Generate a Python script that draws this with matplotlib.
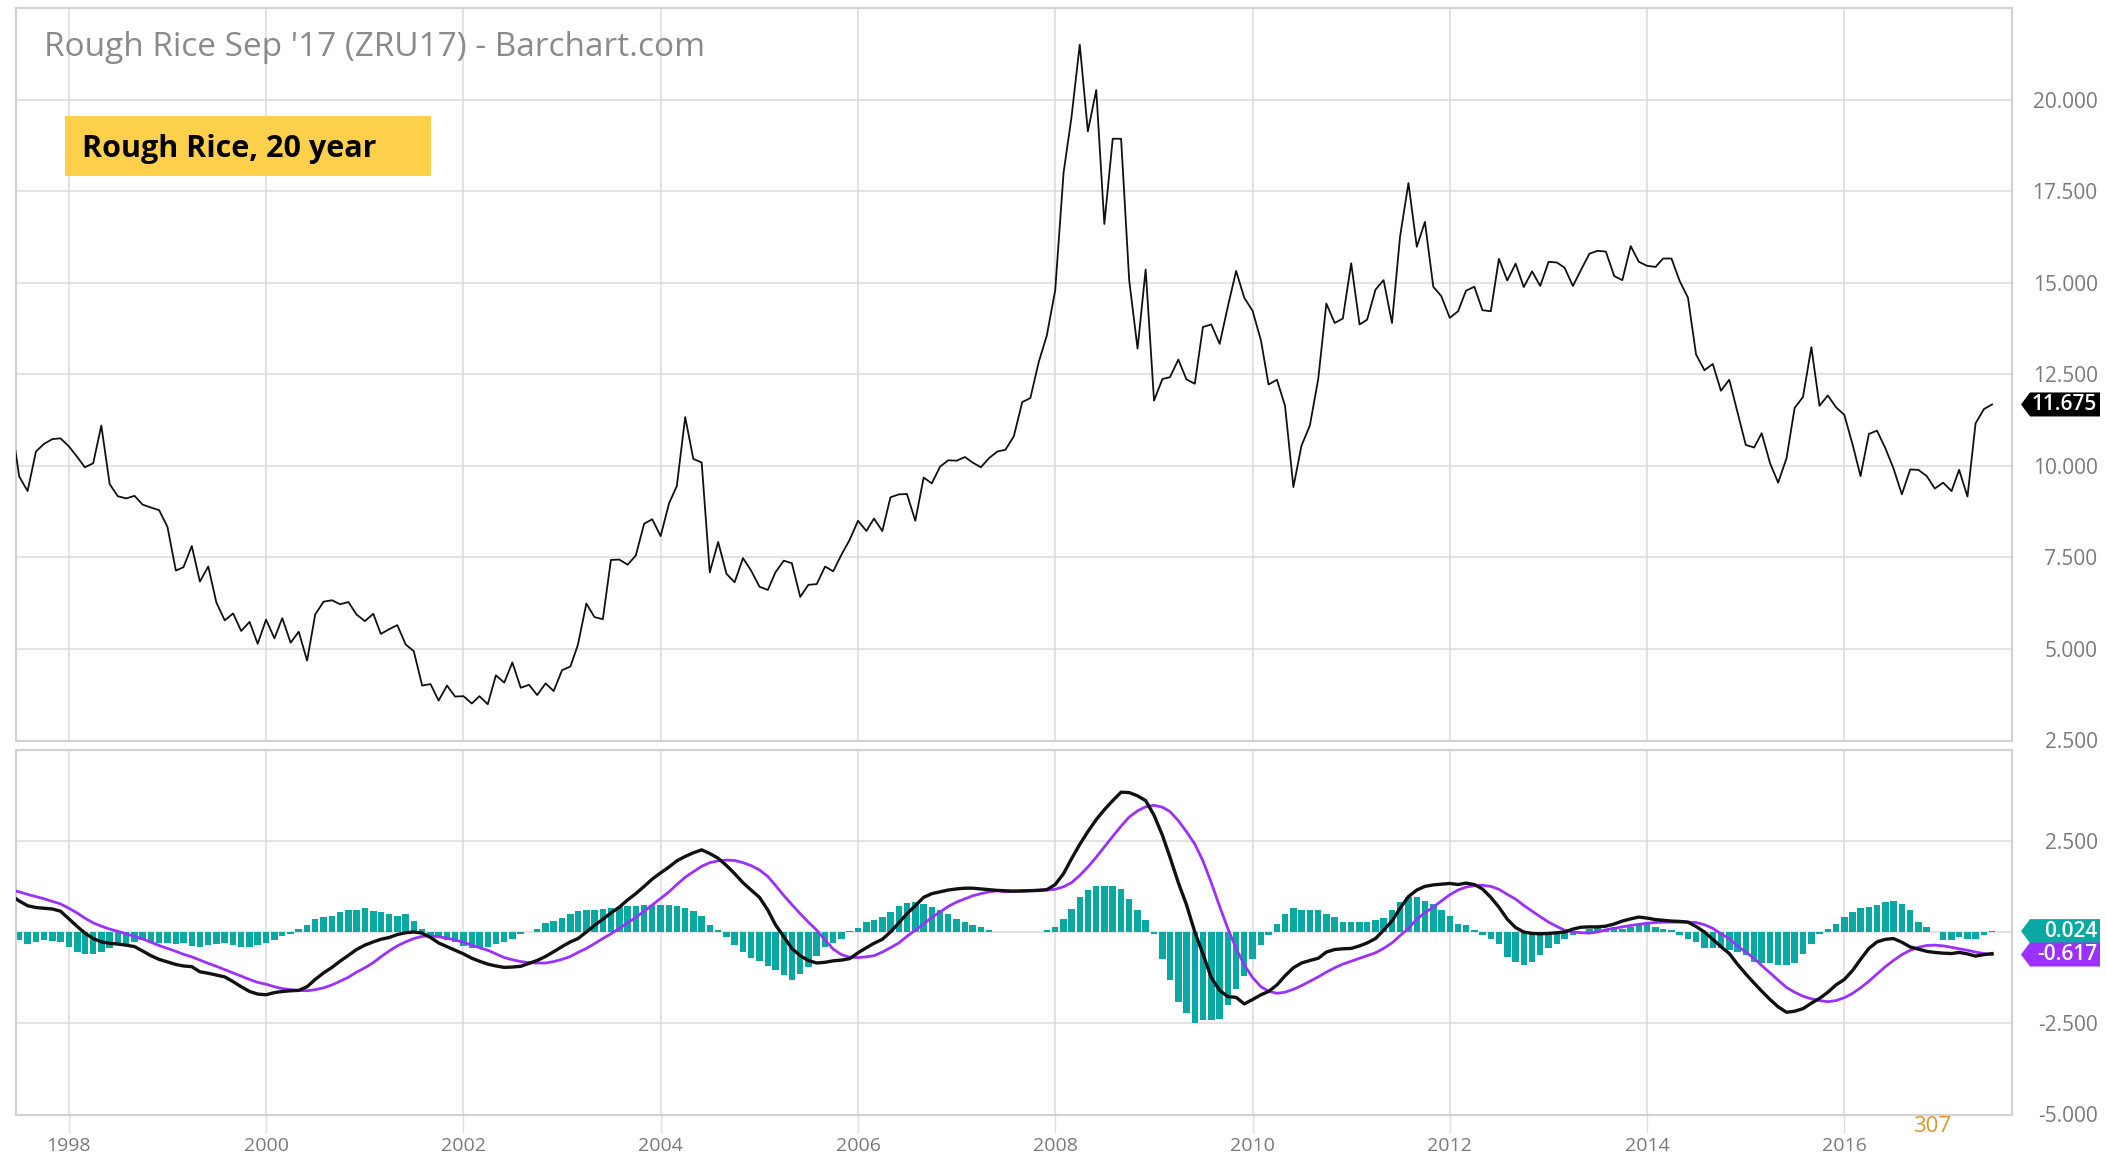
import matplotlib
matplotlib.use("Agg")
import matplotlib.pyplot as plt
import numpy as np
import pandas as pd
from matplotlib.patches import Polygon, Rectangle
from matplotlib.transforms import IdentityTransform

plt.rcParams["font.family"] = ["Open Sans", "DejaVu Sans"]

# ---------------------------------------------------------------- data
first_month = "1997-06-01"

# monthly settlement, Jun 1997 .. Jul 2017
price = [
    11.2, 9.71, 9.31, 10.39, 10.6, 10.73, 10.75,
    10.53, 10.24, 9.96, 10.07, 11.1, 9.5, 9.17, 9.11, 9.18, 8.94, 8.86, 8.79,
    8.33, 7.14, 7.23, 7.81, 6.84, 7.25, 6.27, 5.78, 5.97, 5.49, 5.74, 5.14,
    5.8, 5.29, 5.84, 5.17, 5.47, 4.68, 5.94, 6.29, 6.33, 6.22, 6.28, 5.94,
    5.76, 5.96, 5.41, 5.54, 5.65, 5.12, 4.94, 4.0, 4.04, 3.59, 4.0, 3.7,
    3.71, 3.51, 3.71, 3.49, 4.28, 4.08, 4.63, 3.94, 4.02, 3.74, 4.06, 3.85,
    4.42, 4.52, 5.12, 6.24, 5.87, 5.81, 7.43, 7.44, 7.3, 7.55, 8.42, 8.54,
    8.08, 8.97, 9.45, 11.33, 10.19, 10.09, 7.09, 7.92, 7.05, 6.82, 7.48, 7.14,
    6.7, 6.61, 7.09, 7.41, 7.34, 6.42, 6.75, 6.77, 7.25, 7.12, 7.58, 7.98,
    8.5, 8.22, 8.56, 8.22, 9.14, 9.22, 9.23, 8.5, 9.68, 9.52, 9.98, 10.15,
    10.14, 10.24, 10.09, 9.96, 10.21, 10.39, 10.44, 10.81, 11.74, 11.85, 12.83, 13.56,
    14.79, 18.0, 19.5, 21.5, 19.13, 20.26, 16.6, 18.93, 18.93, 15.07, 13.2, 15.36,
    11.78, 12.37, 12.42, 12.9, 12.36, 12.24, 13.79, 13.86, 13.33, 14.34, 15.32, 14.59,
    14.23, 13.42, 12.22, 12.35, 11.64, 9.42, 10.55, 11.1, 12.37, 14.43, 13.9, 14.02,
    15.53, 13.86, 13.99, 14.81, 15.07, 13.9, 16.26, 17.72, 15.98, 16.66, 14.89, 14.63,
    14.04, 14.22, 14.78, 14.89, 14.25, 14.22, 15.65, 15.06, 15.52, 14.88, 15.31, 14.91,
    15.57, 15.55, 15.41, 14.91, 15.35, 15.79, 15.87, 15.85, 15.18, 15.07, 16.0, 15.57,
    15.46, 15.43, 15.66, 15.66, 15.05, 14.59, 13.04, 12.61, 12.78, 12.05, 12.35, 11.48,
    10.57, 10.5, 10.89, 10.07, 9.54, 10.21, 11.58, 11.88, 13.24, 11.64, 11.92, 11.6,
    11.39, 10.57, 9.72, 10.87, 10.96, 10.48, 9.93, 9.22, 9.9, 9.89, 9.72, 9.38,
    9.54, 9.31, 9.89, 9.16, 11.16, 11.55, 11.675,
]

macd = [
    1.0, 0.85, 0.72, 0.67, 0.65, 0.63, 0.57,
    0.36, 0.15, -0.03, -0.18, -0.27, -0.31, -0.33, -0.36, -0.40, -0.52, -0.65, -0.75,
    -0.82, -0.89, -0.93, -0.95, -1.09, -1.13, -1.18, -1.23, -1.36, -1.50, -1.63, -1.70,
    -1.72, -1.66, -1.63, -1.61, -1.6, -1.5, -1.3, -1.12, -0.97, -0.80, -0.64, -0.48,
    -0.36, -0.27, -0.2, -0.15, -0.07, -0.02, 0.0, -0.03, -0.15, -0.30, -0.40, -0.5,
    -0.6, -0.72, -0.80, -0.88, -0.93, -0.97, -0.96, -0.94, -0.86, -0.78, -0.67, -0.54,
    -0.4, -0.27, -0.18, 0.0, 0.18, 0.35, 0.52, 0.68, 0.88, 1.05, 1.25, 1.45,
    1.62, 1.78, 1.95, 2.07, 2.17, 2.25, 2.15, 2.02, 1.82, 1.6, 1.35, 1.15,
    0.95, 0.6, 0.2, -0.13, -0.45, -0.65, -0.78, -0.85, -0.83, -0.79, -0.77, -0.73,
    -0.57, -0.43, -0.31, -0.2, 0.0, 0.25, 0.5, 0.72, 0.95, 1.05, 1.1, 1.15,
    1.18, 1.2, 1.2, 1.18, 1.16, 1.14, 1.13, 1.12, 1.12, 1.13, 1.14, 1.16,
    1.3, 1.6, 2.0, 2.4, 2.75, 3.08, 3.35, 3.6, 3.83, 3.82, 3.73, 3.6,
    3.2, 2.65, 2.05, 1.35, 0.75, 0.0, -0.6, -1.25, -1.6, -1.77, -1.79, -1.97,
    -1.85, -1.72, -1.63, -1.45, -1.2, -0.98, -0.85, -0.78, -0.72, -0.55, -0.48, -0.46,
    -0.45, -0.38, -0.3, -0.18, 0.05, 0.3, 0.65, 0.97, 1.15, 1.25, 1.29, 1.31,
    1.33, 1.3, 1.34, 1.3, 1.18, 0.95, 0.68, 0.35, 0.12, 0.0, -0.04, -0.05,
    -0.04, -0.02, 0.0, 0.08, 0.13, 0.14, 0.14, 0.16, 0.22, 0.3, 0.36, 0.41,
    0.38, 0.34, 0.32, 0.3, 0.29, 0.27, 0.15, 0.0, -0.2, -0.4, -0.59, -0.88,
    -1.15, -1.4, -1.62, -1.85, -2.05, -2.2, -2.17, -2.1, -1.95, -1.82, -1.65, -1.45,
    -1.3, -1.05, -0.75, -0.45, -0.27, -0.2, -0.18, -0.28, -0.41, -0.47, -0.53, -0.56,
    -0.58, -0.59, -0.56, -0.6, -0.66, -0.62, -0.593,
]

signal = [
    1.15, 1.1, 1.03, 0.97, 0.91, 0.84, 0.77,
    0.65, 0.52, 0.38, 0.25, 0.16, 0.08, 0.02, -0.05, -0.12, -0.19, -0.28, -0.37,
    -0.45, -0.53, -0.61, -0.68, -0.77, -0.86, -0.94, -1.03, -1.12, -1.21, -1.3, -1.38,
    -1.43, -1.5, -1.55, -1.58, -1.6, -1.61, -1.58, -1.53, -1.45, -1.35, -1.24, -1.1,
    -0.98, -0.84, -0.68, -0.52, -0.38, -0.27, -0.18, -0.12, -0.11, -0.13, -0.17, -0.22,
    -0.28, -0.36, -0.43, -0.5, -0.6, -0.7, -0.76, -0.81, -0.84, -0.85, -0.85, -0.81,
    -0.75, -0.67, -0.56, -0.45, -0.32, -0.18, -0.05, 0.1, 0.25, 0.4, 0.57, 0.74,
    0.92, 1.1, 1.3, 1.5, 1.65, 1.8, 1.9, 1.95, 1.97, 1.96, 1.9, 1.82,
    1.7, 1.52, 1.28, 1.0, 0.75, 0.5, 0.27, 0.05, -0.22, -0.47, -0.62, -0.69,
    -0.7, -0.68, -0.65, -0.55, -0.43, -0.3, -0.12, 0.05, 0.22, 0.4, 0.55, 0.7,
    0.82, 0.91, 0.99, 1.05, 1.1, 1.13, 1.1, 1.12, 1.14, 1.14, 1.15, 1.15,
    1.17, 1.24, 1.35, 1.55, 1.78, 2.05, 2.33, 2.62, 2.9, 3.15, 3.32, 3.43,
    3.47, 3.42, 3.3, 3.05, 2.75, 2.41, 1.95, 1.35, 0.7, 0.1, -0.45, -0.9,
    -1.25, -1.5, -1.62, -1.68, -1.65, -1.57, -1.47, -1.35, -1.23, -1.1, -0.98, -0.88,
    -0.8, -0.72, -0.65, -0.57, -0.45, -0.3, -0.1, 0.1, 0.35, 0.53, 0.68, 0.85,
    1.02, 1.15, 1.23, 1.27, 1.28, 1.25, 1.17, 1.03, 0.9, 0.73, 0.57, 0.42,
    0.27, 0.15, 0.05, 0.0, -0.02, -0.03, 0.0, 0.06, 0.1, 0.14, 0.18, 0.21,
    0.24, 0.26, 0.27, 0.27, 0.27, 0.27, 0.26, 0.2, 0.1, -0.05, -0.18, -0.38,
    -0.55, -0.72, -0.92, -1.12, -1.32, -1.52, -1.65, -1.76, -1.83, -1.88, -1.91, -1.88,
    -1.8, -1.68, -1.53, -1.35, -1.15, -0.95, -0.78, -0.62, -0.5, -0.42, -0.37, -0.36,
    -0.38, -0.42, -0.46, -0.5, -0.55, -0.59, -0.617,
]

histogram = [
    -0.2, -0.23, -0.32, -0.27, -0.23, -0.25, -0.27,
    -0.41, -0.55, -0.59, -0.61, -0.55, -0.45, -0.36, -0.32, -0.27, -0.23, -0.27, -0.3,
    -0.3, -0.32, -0.3, -0.38, -0.41, -0.35, -0.32, -0.3, -0.35, -0.41, -0.4, -0.36,
    -0.3, -0.23, -0.12, -0.05, 0.09, 0.2, 0.36, 0.42, 0.45, 0.55, 0.59, 0.61,
    0.66, 0.58, 0.55, 0.5, 0.45, 0.48, 0.3, 0.09, -0.09, -0.14, -0.23, -0.27,
    -0.38, -0.45, -0.45, -0.41, -0.32, -0.27, -0.18, -0.05, 0.0, 0.09, 0.25, 0.3,
    0.38, 0.5, 0.57, 0.6, 0.6, 0.64, 0.66, 0.68, 0.7, 0.72, 0.73, 0.73,
    0.73, 0.73, 0.71, 0.65, 0.58, 0.45, 0.2, 0.05, -0.15, -0.35, -0.55, -0.7,
    -0.8, -0.93, -1.05, -1.18, -1.32, -1.15, -0.95, -0.65, -0.4, -0.3, -0.18, 0.02,
    0.12, 0.27, 0.32, 0.41, 0.55, 0.72, 0.8, 0.82, 0.77, 0.68, 0.59, 0.5,
    0.36, 0.27, 0.2, 0.14, 0.05, 0.0, 0.0, 0.0, 0.0, 0.0, 0.0, 0.05,
    0.14, 0.36, 0.64, 0.95, 1.14, 1.25, 1.25, 1.25, 1.18, 0.91, 0.59, 0.32,
    -0.05, -0.73, -1.32, -1.91, -2.23, -2.5, -2.41, -2.41, -2.39, -2.0, -1.55, -1.21,
    -0.73, -0.36, -0.09, 0.23, 0.5, 0.66, 0.61, 0.59, 0.6, 0.5, 0.41, 0.27,
    0.27, 0.27, 0.27, 0.32, 0.39, 0.59, 0.82, 0.97, 0.97, 0.86, 0.77, 0.61,
    0.43, 0.23, 0.18, 0.05, -0.09, -0.18, -0.32, -0.68, -0.82, -0.91, -0.82, -0.64,
    -0.45, -0.32, -0.18, -0.09, -0.03, 0.09, 0.15, 0.09, 0.14, 0.09, 0.15, 0.18,
    0.21, 0.15, 0.09, 0.05, -0.09, -0.18, -0.27, -0.45, -0.45, -0.45, -0.5, -0.55,
    -0.64, -0.82, -0.86, -0.86, -0.91, -0.91, -0.86, -0.59, -0.32, -0.05, 0.09, 0.23,
    0.41, 0.55, 0.66, 0.68, 0.73, 0.82, 0.86, 0.77, 0.59, 0.27, 0.14, 0.0,
    -0.23, -0.23, -0.14, -0.18, -0.18, -0.09, 0.024,
]

year_ticks = [1998, 2000, 2002, 2004, 2006, 2008, 2010, 2012, 2014, 2016]
price_ticks = [2.5, 5.0, 7.5, 10.0, 12.5, 15.0, 17.5, 20.0]
macd_ticks = [-5.0, -2.5, 0.0, 2.5]
macd_tick_labels = ["-5.000", "-2.500", "", "2.500"]

title = "Rough Rice Sep '17 (ZRU17) - Barchart.com"
note = "Rough Rice, 20 year"

# ---------------------------------------------------------------- style
GRID = "#dedede"
FRAME = "#d2d2d2"
LABEL = "#7a7a7a"
TEAL = "#0aa8a2"
PURPLE = "#9b30ff"

W, H = 2107, 1160
fig = plt.figure(figsize=(W / 100, H / 100), dpi=100)
fig.patch.set_facecolor("white")


def px_box(left, top, right, bottom):
    return [left / W, 1 - bottom / H, (right - left) / W, (bottom - top) / H]


ax1 = fig.add_axes(px_box(15.7, 8, 2011.5, 740.5))
ax2 = fig.add_axes(px_box(15.7, 749.5, 2011.5, 1114.5), sharex=ax1)

months = pd.date_range(first_month, periods=len(price), freq="MS")
tick_dates = pd.to_datetime([f"{y}-01-01" for y in year_ticks])

for ax in (ax1, ax2):
    ax.set_facecolor("white")
    for s in ax.spines.values():
        s.set_color(FRAME)
        s.set_linewidth(1.6)
    ax.grid(True, color=GRID, linewidth=1.2)
    ax.set_axisbelow(True)
    ax.yaxis.tick_right()

# price panel
ax1.plot(months, price, color="#111111", linewidth=1.3, zorder=3)
ax1.set_ylim(2.5, 22.5)
ax1.set_xlim(pd.Timestamp("1997-06-18"), pd.Timestamp("2017-09-11"))
ax1.set_yticks(price_ticks)
ax1.set_yticklabels([f"{v:.3f}" for v in price_ticks])
ax1.tick_params(axis="y", length=0, pad=62, labelsize=15, labelcolor=LABEL)
ax1.tick_params(axis="x", length=0, labelbottom=False)
for lab in ax1.get_yticklabels():
    lab.set_horizontalalignment("right")

# MACD panel
ax2.bar(months, histogram, width=24, color=TEAL, linewidth=0, zorder=2)
ax2.plot(months, macd, color="#111111", linewidth=2.4, zorder=4)
ax2.plot(months, signal, color=PURPLE, linewidth=2.0, zorder=3)
ax2.set_ylim(-5, 5)
ax2.set_yticks(macd_ticks)
ax2.set_yticklabels(macd_tick_labels)
ax2.tick_params(axis="y", length=0, pad=62, labelsize=15, labelcolor=LABEL)
for lab in ax2.get_yticklabels():
    lab.set_horizontalalignment("right")
ax2.set_xticks(tick_dates)
ax2.set_xticklabels([str(y) for y in year_ticks])
ax2.tick_params(axis="x", direction="out", length=13, width=1.0, color=GRID,
                pad=3, labelsize=14, labelcolor=LABEL)

# title and caption box
fig.text(44 / W, 1 - 48 / H, title, fontsize=24, color="#8a8a8a",
         ha="left", va="center")
fig.patches.append(Rectangle((65 / W, 1 - 176 / H), 366 / W, 60 / H,
                             transform=fig.transFigure, facecolor="#fdd04c",
                             edgecolor="none", zorder=5))
fig.text(82 / W, 1 - 149 / H, note, fontsize=22, fontweight="bold",
         color="black", ha="left", va="center", zorder=6)

# last-value badges on the right edge
def badge(ax, value, text, color):
    yc = ax.transData.transform((ax.get_xlim()[0], value))[1]
    half = 12
    tip, body, end = 2021, 2030, 2100
    pts = [(tip, yc), (body, yc + half), (end, yc + half),
           (end, yc - half), (body, yc - half)]
    fig.patches.append(Polygon(pts, closed=True, transform=IdentityTransform(),
                               facecolor=color, edgecolor="none", zorder=10))
    fig.text(2097 / W, yc / H, text, fontsize=15, fontweight="semibold",
             color="white", ha="right", va="center", zorder=11)


badge(ax1, price[-1], f"{price[-1]:.3f}", "#000000")
badge(ax2, histogram[-1], f"{histogram[-1]:.3f}", TEAL)
badge(ax2, signal[-1], f"{signal[-1]:.3f}", PURPLE)

fig.text(1932 / W, 1 - 1127 / H, "307", fontsize=16, color="#e0952d",
         ha="center", va="center")

fig.savefig("out.png", dpi=100, facecolor="white")
